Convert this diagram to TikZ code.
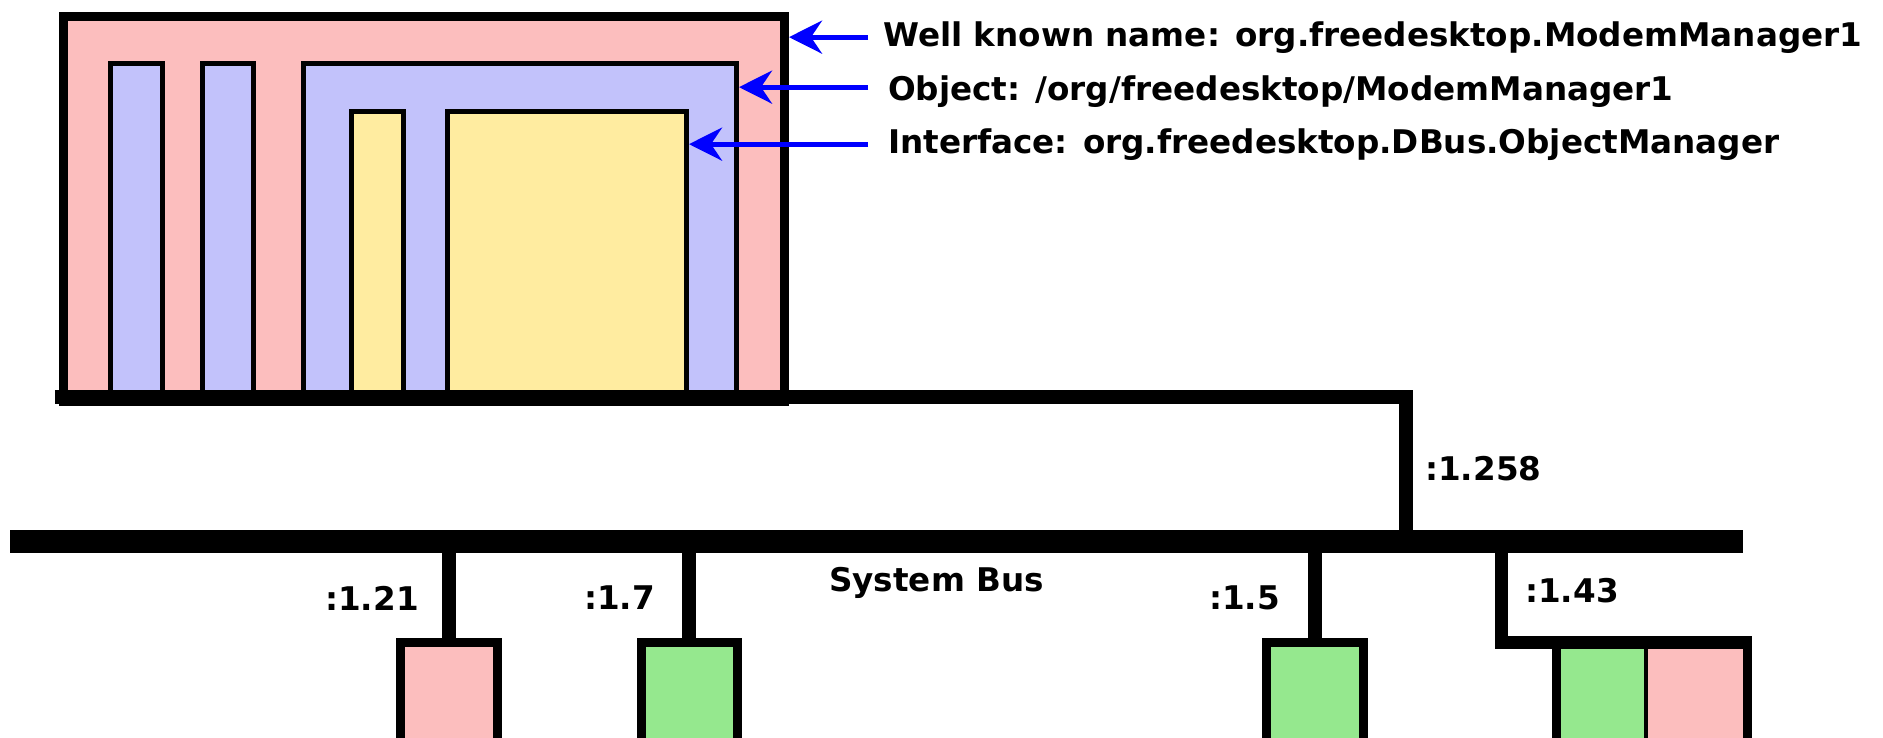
\documentclass[tikz,border=0pt]{standalone}
\usepackage{fontspec}
\setmainfont{DejaVu Sans}
\usetikzlibrary{arrows.meta}
\definecolor{pinkc}{RGB}{252,190,190}
\definecolor{bluec}{RGB}{194,194,251}
\definecolor{yelc}{RGB}{255,236,160}
\definecolor{greenc}{RGB}{149,232,142}
\begin{document}
\begin{tikzpicture}[x=1pt,y=-1pt,
  box/.style={draw=black, inner sep=0pt, anchor=north west},
  bigbox/.style={box, line width=9pt},
  inbox/.style={box, line width=5pt},
  lbl/.style={inner sep=0pt, anchor=base west, font=\fontsize{32.6pt}{39pt}\selectfont\bfseries},
  arr/.style={draw=blue, line width=5pt, -{Stealth[length=33pt,width=33pt,inset=11pt]}},
  dropline/.style={line width=14pt},
  busbar/.style={line width=14pt, line join=miter},
]
\useasboundingbox (0,0) rectangle (1883,737);
\clip (0,0) rectangle (1883,737);
% top service box
\node[bigbox, fill=pinkc, minimum width=721pt, minimum height=385.5pt] (outer) at (59,11.5) {};
\node[inbox, fill=bluec, minimum width=52pt, minimum height=336.5pt] (s1) at (107.5,60.5) {};
\node[inbox, fill=bluec, minimum width=51pt, minimum height=336.5pt] (s2) at (199.5,60.5) {};
\node[inbox, fill=bluec, minimum width=433.5pt, minimum height=336.5pt] (obj) at (300.5,60.5) {};
\node[inbox, fill=yelc, minimum width=52pt, minimum height=288.5pt] (y1) at (348.5,108.5) {};
\node[inbox, fill=yelc, minimum width=239pt, minimum height=288.5pt] (iface) at (445,108.5) {};
% connection to bus
\coordinate (barL) at (55,397);
\coordinate (j258) at (1406,535);
\draw[busbar] (barL) -| (j258);
% system bus
\node[fill=black, inner sep=0pt, outer sep=0pt, anchor=north west, minimum width=1733pt, minimum height=23pt] (bus) at (10,530) {};
% clients
\node[bigbox, fill=pinkc, minimum width=97pt, minimum height=150pt] (b121) at (395.5,637.5) {};
\node[bigbox, fill=greenc, minimum width=96pt, minimum height=150pt] (b17) at (636.5,637.5) {};
\node[bigbox, fill=greenc, minimum width=97pt, minimum height=150pt] (b15) at (1261.5,637.5) {};
\fill[pinkc] (1551.5,637.5) rectangle (1742.5,790);
\fill[greenc] (1551.5,637.5) rectangle (1646,790);
\draw[line width=4.5pt] (1646,637.5) -- (1646,790);
\node[bigbox, minimum width=191pt, minimum height=150pt] (b143) at (1551.5,637.5) {};
\draw[dropline] (bus.south -| b121.north) -- (b121.north);
\draw[dropline] (bus.south -| b17.north) -- (b17.north);
\draw[dropline] (bus.south -| b15.north) -- (b15.north);
\coordinate (d143) at (1501,0);
\draw[busbar, line width=13pt] (bus.south -| d143) |- ([yshift=-4.5pt]b143.north east);
% labels
\node[lbl] (t1) at (883,46) {Well known name: org.freedesktop.ModemManager1};
\node[lbl] (t2) at (888,100) {Object: /org/freedesktop/ModemManager1};
\node[lbl] (t3) at (888,153) {Interface: org.freedesktop.DBus.ObjectManager};
\draw[arr] ([xshift=-15pt]t1.west) coordinate (a1) -- (a1 -| outer.east);
\draw[arr] ([xshift=-20pt,yshift=4pt]t2.west) coordinate (a2) -- (a2 -| obj.east);
\draw[arr] ([xshift=-20pt]t3.west) coordinate (a3) -- (a3 -| iface.east);
\node[lbl] (l258) at (1425,480) {:1.258};
\node[lbl] (l121) at (325,610) {:1.21};
\node[lbl] (l17) at (584,609) {:1.7};
\node[lbl] (lbus) at (829,591) {System Bus};
\node[lbl] (l15) at (1209,609) {:1.5};
\node[lbl] (l143) at (1525,602) {:1.43};
\end{tikzpicture}
\end{document}
